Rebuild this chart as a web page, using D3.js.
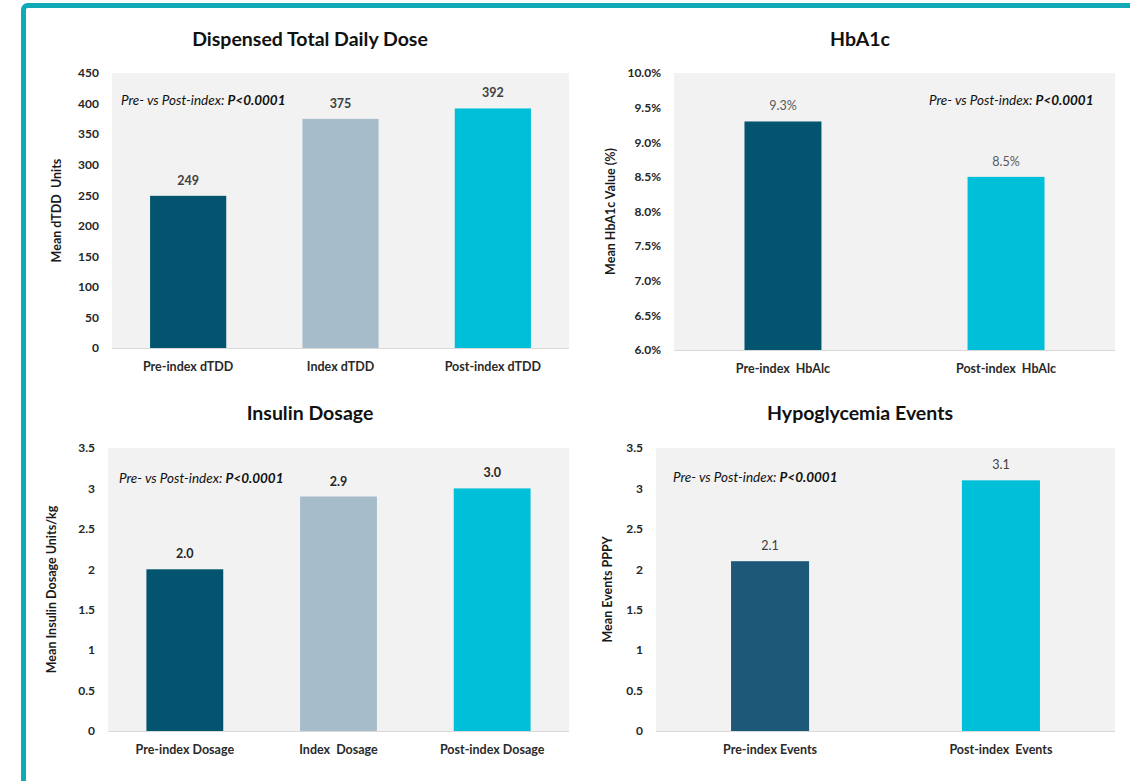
<!DOCTYPE html>
<html>
<head>
<meta charset="utf-8">
<script src="https://cdn.jsdelivr.net/npm/d3@7"></script>
<style>
  body { margin: 0; background: #fff; }
  svg { display: block; font-family: Lato, "Open Sans", sans-serif; }
</style>
</head>
<body>
<script>
// chart data
var tddCats = ["Pre-index dTDD", "Index dTDD", "Post-index dTDD"];
var tddVals = [249, 375, 392];
var tddTicks = [0, 50, 100, 150, 200, 250, 300, 350, 400, 450];

var hbaCats = ["Pre-index  HbAlc", "Post-index  HbAlc"];
var hbaVals = [9.3, 8.5];
var hbaTicks = [6.0, 6.5, 7.0, 7.5, 8.0, 8.5, 9.0, 9.5, 10.0];

var doseCats = ["Pre-index Dosage", "Index  Dosage", "Post-index Dosage"];
var doseVals = [2.0, 2.9, 3.0];
var doseTicks = [0, 0.5, 1, 1.5, 2, 2.5, 3, 3.5];

var eventCats = ["Pre-index Events", "Post-index  Events"];
var eventVals = [2.1, 3.1];
var eventTicks = [0, 0.5, 1, 1.5, 2, 2.5, 3, 3.5];

var pValue = "P<0.0001";

var width = 1130;
var height = 781;

var svg = d3.select("body")
    .append("svg")
        .attr("width", width)
        .attr("height", height);

// teal frame
svg.append("rect")
    .attr("x", 23.5)
    .attr("y", 5.5)
    .attr("width", 1130)
    .attr("height", 800)
    .attr("rx", 4)
    .attr("fill", "none")
    .attr("stroke", "#10a9b6")
    .attr("stroke-width", 5);

function drawPanel(p) {
    var g = svg.append("g");

    var x = d3.scaleBand()
        .domain(p.cats)
        .range([p.left, p.right])
        .paddingInner(p.padIn)
        .paddingOuter(p.padOut);

    var y = d3.scaleLinear()
        .domain(p.domain)
        .range([p.bottom, p.top]);

    // plot background
    g.append("rect")
        .attr("x", p.left)
        .attr("y", p.top)
        .attr("width", p.right - p.left)
        .attr("height", p.bottom - p.top)
        .attr("fill", "#f2f2f2");

    g.append("line")
        .attr("x1", p.left)
        .attr("x2", p.right)
        .attr("y1", p.bottom + 0.5)
        .attr("y2", p.bottom + 0.5)
        .attr("stroke", "#d9d9d9");

    // title
    g.append("text")
        .attr("x", p.titleX)
        .attr("y", p.titleY)
        .attr("text-anchor", "middle")
        .attr("font-size", 19.5)
        .attr("font-weight", "bold")
        .attr("fill", "#111")
        .text(p.title);

    // y axis
    var leftAxis = d3.axisLeft(y)
        .tickValues(p.ticks)
        .tickSize(0)
        .tickPadding(p.tickPad)
        .tickFormat(p.tickFmt);
    var ya = g.append("g")
        .attr("transform", "translate(" + p.left + ",0)")
        .call(leftAxis);
    ya.select(".domain").remove();
    ya.selectAll("text")
        .attr("font-family", "Lato, sans-serif")
        .attr("font-size", 12)
        .attr("font-weight", "bold")
        .attr("fill", "#262626");

    g.append("text")
        .attr("transform", "rotate(-90)")
        .attr("x", -(p.top + p.bottom) / 2)
        .attr("y", p.yLabelX)
        .attr("text-anchor", "middle")
        .attr("font-size", 12.5)
        .attr("font-weight", "bold")
        .attr("fill", "#1a1a1a")
        .style("white-space", "pre")
        .text(p.yLabel);

    // x axis
    var bottomAxis = d3.axisBottom(x).tickSize(0).tickPadding(14);
    var xa = g.append("g")
        .attr("transform", "translate(0," + p.bottom + ")")
        .call(bottomAxis);
    xa.select(".domain").remove();
    xa.selectAll("text")
        .attr("font-family", "Lato, sans-serif")
        .attr("font-size", 12.5)
        .attr("font-weight", "bold")
        .attr("fill", "#2a2a2a")
        .style("white-space", "pre");

    // bars
    g.selectAll(".bar")
        .data(p.vals)
        .enter()
        .append("rect")
            .attr("class", "bar")
            .attr("x", (d, i) => x(p.cats[i]))
            .attr("y", d => y(d))
            .attr("width", x.bandwidth())
            .attr("height", d => p.bottom - y(d))
            .attr("fill", (d, i) => p.colors[i]);

    g.selectAll(".val")
        .data(p.vals)
        .enter()
        .append("text")
            .attr("class", "val")
            .attr("x", (d, i) => x(p.cats[i]) + x.bandwidth() / 2)
            .attr("y", d => y(d) - 11)
            .attr("text-anchor", "middle")
            .attr("font-size", 12.5)
            .attr("font-weight", p.valWeight)
            .attr("fill", p.valColor)
            .text(p.valFmt);

    // significance note
    var note = g.append("text")
        .attr("x", p.noteX)
        .attr("y", p.noteY)
        .attr("font-size", 13.5)
        .attr("font-style", "italic")
        .attr("fill", "#111");
    note.append("tspan").text("Pre- vs Post-index: ");
    note.append("tspan").attr("font-weight", "bold").text(pValue);
}

drawPanel({
    title: "Dispensed Total Daily Dose", titleX: 310, titleY: 46,
    cats: tddCats, vals: tddVals, ticks: tddTicks, domain: [0, 450],
    tickFmt: d3.format("d"), tickPad: 13,
    left: 112, right: 569, top: 73, bottom: 348,
    padIn: 0.5, padOut: 0.25,
    colors: ["#03546f", "#a6bccb", "#00bfd8"],
    yLabel: "Mean dTDD  Units", yLabelX: 61,
    noteX: 121, noteY: 105,
    valFmt: d => d3.format("d")(d), valWeight: "bold", valColor: "#404040"
});

drawPanel({
    title: "HbA1c", titleX: 860, titleY: 46,
    cats: hbaCats, vals: hbaVals, ticks: hbaTicks, domain: [6, 10],
    tickFmt: d => d3.format(".1f")(d) + "%", tickPad: 13,
    left: 674, right: 1115, top: 73, bottom: 350,
    padIn: 0.655, padOut: 0.316,
    colors: ["#03546f", "#00bfd8"],
    yLabel: "Mean HbA1c Value (%)", yLabelX: 615,
    noteX: 929, noteY: 105,
    valFmt: d => d3.format(".1f")(d) + "%", valWeight: "normal", valColor: "#595959"
});

drawPanel({
    title: "Insulin Dosage", titleX: 310, titleY: 420,
    cats: doseCats, vals: doseVals, ticks: doseTicks, domain: [0, 3.5],
    tickFmt: d => String(d), tickPad: 13,
    left: 108, right: 569, top: 448, bottom: 731,
    padIn: 0.5, padOut: 0.25,
    colors: ["#03546f", "#a6bccb", "#00bfd8"],
    yLabel: "Mean Insulin Dosage Units/kg", yLabelX: 56,
    noteX: 119, noteY: 483,
    valFmt: d => d3.format(".1f")(d), valWeight: "bold", valColor: "#262626"
});

drawPanel({
    title: "Hypoglycemia Events", titleX: 860, titleY: 420,
    cats: eventCats, vals: eventVals, ticks: eventTicks, domain: [0, 3.5],
    tickFmt: d => String(d), tickPad: 13,
    left: 656, right: 1115, top: 448, bottom: 731,
    padIn: 0.662, padOut: 0.325,
    colors: ["#1e5879", "#00bfd8"],
    yLabel: "Mean Events PPPY", yLabelX: 612,
    noteX: 673, noteY: 482,
    valFmt: d => d3.format(".1f")(d), valWeight: "normal", valColor: "#404040"
});
</script>
</body>
</html>
